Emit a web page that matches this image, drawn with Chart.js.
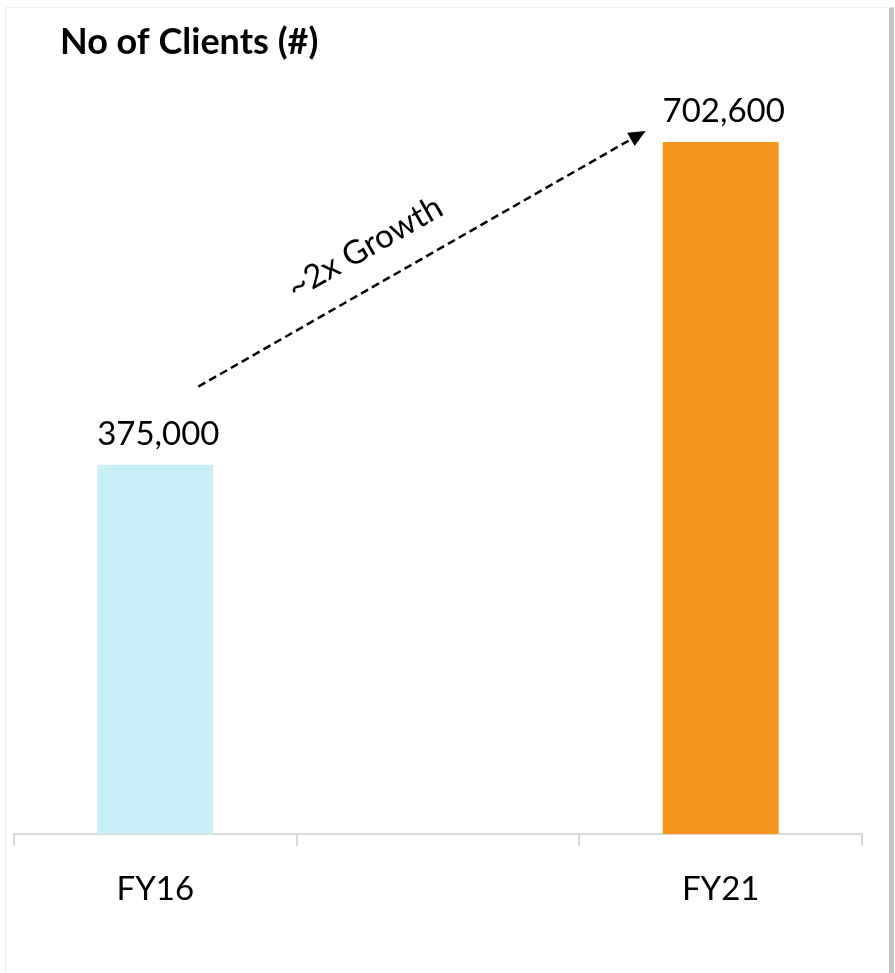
<!DOCTYPE html>
<html>
<head>
<meta charset="utf-8">
<script src="https://cdn.jsdelivr.net/npm/chart.js@4.4.1/dist/chart.umd.min.js"></script>
<style>
  html, body { margin: 0; padding: 0; background: #fff; }
  #wrap { position: relative; width: 895px; height: 973px; overflow: hidden; }
  #frame {
    position: absolute; left: 5px; top: 7px; width: 883px; height: 990px;
    border-left: 1px solid #f0f0f0; border-top: 1px solid #f0f0f0;
    border-right: 5px solid #c4c4c4;
  }
  canvas { position: absolute; left: 0; top: 0; }
</style>
</head>
<body>
<div id="wrap">
  <div id="frame"></div>
  <canvas id="clients" width="895" height="973"></canvas>
</div>
<script>
(function () {
  var CATEGORIES = ['FY16', '', 'FY21'];
  var CLIENTS = [375000, null, 702600];
  var BAR_COLORS = ['#C9EEF7', '#C9EEF7', '#F7941D'];
  var TITLE = 'No of Clients (#)';
  var GROWTH_NOTE = '~2x Growth';
  var Y_MAX = 800000;

  var FONT_FAMILY = 'Lato, "Open Sans", sans-serif';
  var FONT_SIZE = 33;
  var AXIS_COLOR = '#d9d9d9';

  function fmt(v) {
    return v.toLocaleString('en-US');
  }

  // value labels, growth arrow and the heading
  var notesPlugin = {
    id: 'clientNotes',
    afterDatasetsDraw: function (chart) {
      var c = chart.ctx;
      var bars = chart.getDatasetMeta(0).data;

      c.save();
      c.fillStyle = '#000';
      c.font = FONT_SIZE + 'px ' + FONT_FAMILY;
      c.textAlign = 'center';
      c.textBaseline = 'alphabetic';
      bars.forEach(function (bar, i) {
        if (CLIENTS[i] == null) return;
        c.fillText(fmt(CLIENTS[i]), bar.x + 3, bar.y - 20);
      });

      // dashed arrow from the FY16 bar up to the FY21 bar
      var from = bars[0], to = bars[2];
      var x0 = from.x + 43, y0 = from.y - 78;
      var x1 = to.x - 75, y1 = to.y - 11;
      var ang = Math.atan2(y1 - y0, x1 - x0);
      var head = 17, half = 7.5;
      var bx = x1 - head * Math.cos(ang), by = y1 - head * Math.sin(ang);

      c.strokeStyle = '#000';
      c.lineWidth = 2.5;
      c.setLineDash([8, 4.5]);
      c.beginPath();
      c.moveTo(x0, y0);
      c.lineTo(bx, by);
      c.stroke();
      c.setLineDash([]);

      c.beginPath();
      c.moveTo(x1, y1);
      c.lineTo(bx + half * Math.sin(ang), by - half * Math.cos(ang));
      c.lineTo(bx - half * Math.sin(ang), by + half * Math.cos(ang));
      c.closePath();
      c.fill();

      c.translate((x0 + x1) / 2, (y0 + y1) / 2);
      c.rotate(ang);
      c.textBaseline = 'middle';
      c.fillText(GROWTH_NOTE, -44, -38);
      c.restore();

      c.save();
      c.fillStyle = '#000';
      c.font = 'bold 36px ' + FONT_FAMILY;
      c.textAlign = 'left';
      c.textBaseline = 'alphabetic';
      c.fillText(TITLE, 60, 54);
      c.restore();
    }
  };

  new Chart(document.getElementById('clients'), {
    type: 'bar',
    data: {
      labels: CATEGORIES,
      datasets: [{
        data: CLIENTS,
        backgroundColor: BAR_COLORS,
        borderWidth: 0,
        categoryPercentage: 1,
        barPercentage: 0.41
      }]
    },
    options: {
      responsive: false,
      devicePixelRatio: 1,
      animation: false,
      layout: { padding: { left: 14, right: 33, top: 46, bottom: 0 } },
      plugins: {
        legend: { display: false },
        tooltip: { enabled: false }
      },
      scales: {
        x: {
          offset: true,
          grid: {
            display: true,
            offset: true,
            drawOnChartArea: false,
            tickLength: 12,
            color: AXIS_COLOR,
            lineWidth: 2
          },
          border: { color: AXIS_COLOR, width: 2 },
          ticks: {
            color: '#000',
            padding: 24,
            font: { family: FONT_FAMILY, size: FONT_SIZE }
          },
          afterFit: function (scale) { scale.height = 139; }
        },
        y: {
          display: false,
          min: 0,
          max: Y_MAX
        }
      }
    },
    plugins: [notesPlugin]
  });
})();
</script>
</body>
</html>
